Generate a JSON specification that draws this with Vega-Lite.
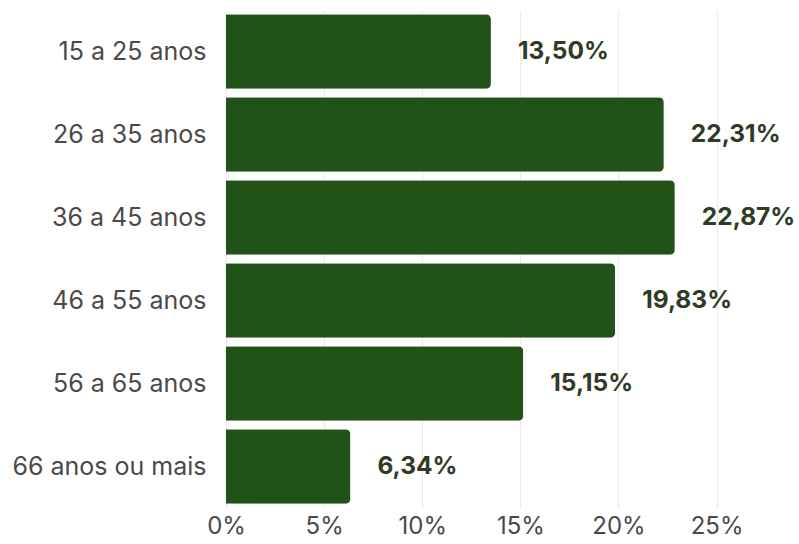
{
  "$schema": "https://vega.github.io/schema/vega-lite/v6.json",
  "width": 573,
  "height": 498,
  "autosize": {"type": "none"},
  "padding": {"left": 226, "top": 10, "right": 0, "bottom": 36},
  "background": "white",
  "config": {
    "view": {"stroke": null},
    "font": "Inter",
    "locale": {"number": {"decimal": ",", "thousands": ".", "grouping": [3], "currency": ["R$", ""]}}
  },
  "data": {
    "values": [
      {"faixa": "15 a 25 anos", "pct": 0.1350},
      {"faixa": "26 a 35 anos", "pct": 0.2231},
      {"faixa": "36 a 45 anos", "pct": 0.2287},
      {"faixa": "46 a 55 anos", "pct": 0.1983},
      {"faixa": "56 a 65 anos", "pct": 0.1515},
      {"faixa": "66 anos ou mais", "pct": 0.0634}
    ]
  },
  "encoding": {
    "y": {
      "field": "faixa", "type": "nominal", "sort": null,
      "scale": {"paddingInner": 0.1, "paddingOuter": 0.05},
      "axis": {"title": null, "ticks": false, "domain": false, "labelPadding": 20, "labelFontSize": 25, "labelColor": "#4a4a4a", "labelLimit": 300}
    },
    "x": {
      "field": "pct", "type": "quantitative",
      "scale": {"domain": [0, 0.292], "nice": false},
      "axis": {"title": null, "values": [0, 0.05, 0.1, 0.15, 0.2, 0.25], "format": ".0%", "ticks": false, "domain": false, "labelFlush": false, "labelPadding": 6, "labelFontSize": 24, "labelColor": "#4a4a4a", "gridColor": "#ebebeb", "gridWidth": 1.2}
    }
  },
  "layer": [
    {"mark": {"type": "bar", "color": "#215217", "cornerRadiusEnd": 5}},
    {"mark": {"type": "text", "align": "left", "baseline": "middle", "dx": 27, "fontSize": 24.5, "fontWeight": "bold", "color": "#2f3b24"},
     "encoding": {"text": {"field": "pct", "type": "quantitative", "format": ".2%"}}}
  ]
}
